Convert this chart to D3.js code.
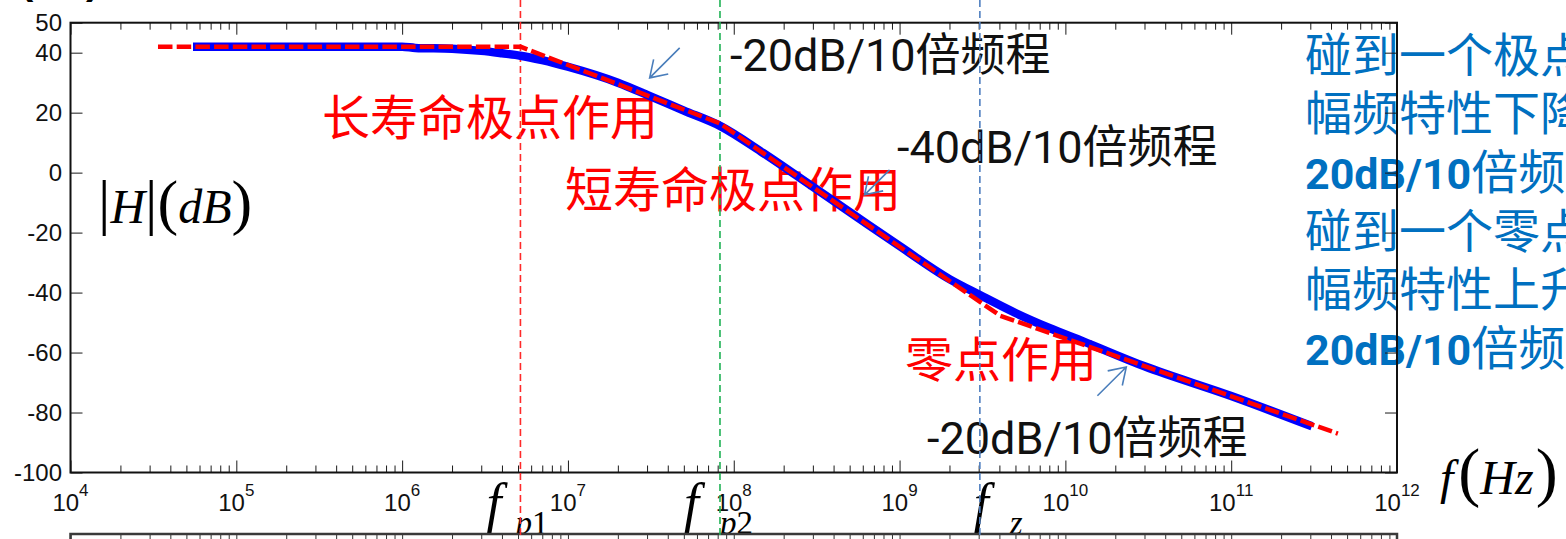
<!DOCTYPE html>
<html>
<head>
<meta charset="utf-8">
<script src="https://cdn.jsdelivr.net/npm/d3@7"></script>
<style>
  html, body { margin: 0; padding: 0; background: #fff; overflow: hidden; }
  svg { display: block; }
</style>
</head>
<body>
<svg id="chart" width="1566" height="539"></svg>
<script>
// ---- Data --------------------------------------------------------------
// Simulated magnitude response |H| (dB) versus frequency (Hz)
const blueFreq = [5.48e4, 1e5, 1e6, 1.2e6, 2e6, 3e6, 4e6, 5.17e6, 7e6, 1e7, 2e7, 3.1e7, 5e7,
                  8.26e7, 1.5e8, 2.5e8, 5.7e8, 1e9, 2e9, 3.05e9, 5e9, 8e9, 1.27e10, 3e10, 1e11, 3.07e11];
const blueDb   = [42, 42, 42, 41.6, 41.3, 40.6, 39.8, 39, 37.5, 35.3, 30, 25.6, 20.7,
                  15.6, 6.6, -1.7, -15.3, -24.5, -35.5, -40.8, -46.8, -51.8, -56.2, -64.6, -74.5, -84.6];

// Piecewise (asymptotic) approximation drawn dashed on top
const redFreq = [3.37e4, 5.17e6, 8.26e7, 4.04e9, 4.4e11];
const redDb   = [42, 42, 16.4, -47.7, -87];

// Pole / zero frequencies marked by vertical dashed lines
const markerNames  = ["p1", "p2", "z"];
const markerFreq   = [5.17e6, 8.26e7, 3.05e9];
const markerColors = ["#ff2a2a", "#1fb255", "#4f7fc0"];

// Axis ticks
const xTickExponents = [4, 5, 6, 7, 8, 9, 10, 11, 12];
const yTickValues    = [-100, -80, -60, -40, -20, 0, 20, 40, 50];

// Slope arrows: [freq, dB] of tail and head
const arrowFrom = [[4.72e7, 41.6], [8.7e8, 0.9], [1.56e10, -74.4]];
const arrowTo   = [[3.11e7, 31.6], [6.15e8, -7.4], [2.33e10, -64.8]];

// Notes on the right
const noteLines = ["碰到一个极点", "幅频特性下降", "20dB/10倍频程", "碰到一个零点", "幅频特性上升", "20dB/10倍频程"];

// ---- Layout ------------------------------------------------------------
const W = 1566, H = 539;
const plotLeft = 70.5, plotRight = 1397, plotTop = 22.7, plotBottom = 472.5;
const lowerTop = 534;

const x = d3.scaleLog().domain([1e4, 1e12]).range([plotLeft, plotRight]);
const y = d3.scaleLinear().domain([-100, 50]).range([plotBottom, plotTop]);

const svg = d3.select("#chart");
svg.append("rect").attr("width", W).attr("height", H).attr("fill", "#fff");

const sansCJK = "'Noto Sans CJK SC', sans-serif";
const serif = "'Liberation Serif', 'Times New Roman', serif";
const axisFont = "'Liberation Sans', Arial, sans-serif";

// partial label cut at the top edge
svg.append("text").attr("x", 20).attr("y", -6).attr("font-family", axisFont)
  .attr("font-weight", "bold").attr("font-size", 40).attr("fill", "#000").text("(");
svg.append("text").attr("x", 86).attr("y", -6).attr("font-family", axisFont)
  .attr("font-weight", "bold").attr("font-size", 40).attr("fill", "#000").text(")");

// ---- Annotation texts ---------------------------------------------------
const redNotes = [
  { t: "长寿命极点作用", x: 322, y: 135 },
  { t: "短寿命极点作用", x: 565, y: 207 },
  { t: "零点作用", x: 905, y: 377 }
];
svg.selectAll("text.rednote").data(redNotes).join("text")
  .attr("class", "rednote")
  .attr("x", d => d.x).attr("y", d => d.y)
  .attr("font-family", sansCJK).attr("font-weight", 400)
  .attr("font-size", 48).attr("fill", "#ff0000")
  .text(d => d.t);

const slopeNotes = [
  { t: "-20dB/10倍频程", x: 730, y: 71 },
  { t: "-40dB/10倍频程", x: 897, y: 163 },
  { t: "-20dB/10倍频程", x: 927, y: 454 }
];
svg.selectAll("text.slope").data(slopeNotes).join("text")
  .attr("class", "slope")
  .attr("x", d => d.x).attr("y", d => d.y)
  .attr("font-family", "Roboto, 'Noto Sans CJK SC', sans-serif")
  .attr("font-size", 45).attr("fill", "#111")
  .text(d => d.t);

// right-hand notes (blue)
const notes = svg.append("g").attr("fill", "#0070c0");
noteLines.forEach((line, i) => {
  const t = notes.append("text")
    .attr("x", 1305).attr("y", 71.5 + i * 58.7)
    .attr("font-family", "Roboto, 'Noto Sans CJK SC', sans-serif")
    .attr("font-size", 47);
  const m = line.match(/^([0-9A-Za-z\/]+)(.*)$/);
  if (m) {
    t.append("tspan").attr("font-weight", "bold").attr("font-size", 43).text(m[1]);
    t.append("tspan").text(m[2]);
  } else {
    t.text(line);
  }
});

// |H|(dB) label
const hLab = svg.append("text").attr("x", 98).attr("y", 223)
  .attr("font-family", serif).attr("fill", "#000");
hLab.append("tspan").attr("font-size", 62).text("|");
hLab.append("tspan").attr("font-size", 48).attr("font-style", "italic").text("H");
hLab.append("tspan").attr("font-size", 62).text("|(");
hLab.append("tspan").attr("font-size", 48).attr("font-style", "italic").text("dB");
hLab.append("tspan").attr("font-size", 62).text(")");

// f(Hz) label
const fLab = svg.append("text").attr("x", 1440).attr("y", 494)
  .attr("font-family", serif).attr("fill", "#000");
fLab.append("tspan").attr("font-size", 48).attr("font-style", "italic").text("f");
fLab.append("tspan").attr("font-size", 66).attr("dx", 5).text("(");
fLab.append("tspan").attr("font-size", 48).attr("font-style", "italic").text("Hz");
fLab.append("tspan").attr("font-size", 66).attr("dx", 2).text(")");

// f_p1, f_p2, f_z labels under the axis
const markerLabelOffset = [[-34, -5], [-36, 0], [-6, 30]];
markerNames.forEach((nm, i) => {
  const mx = x(markerFreq[i]);
  svg.append("text").attr("x", mx + markerLabelOffset[i][0]).attr("y", 521)
    .attr("font-family", serif).attr("font-style", "italic")
    .attr("font-size", 54).attr("fill", "#000").text("f");
  const sub = svg.append("text").attr("x", mx + markerLabelOffset[i][1]).attr("y", 534)
    .attr("font-family", serif).attr("font-size", 33).attr("fill", "#000");
  sub.append("tspan").attr("font-style", "italic").text(nm[0]);
  if (nm.length > 1) sub.append("tspan").text(nm.slice(1));
});

// ---- Lower panel edge ---------------------------------------------------
const majorFreqs = xTickExponents.map(e => Math.pow(10, e));
const minorFreqs = [];
xTickExponents.slice(0, -1).forEach(e => {
  for (let m = 2; m <= 9; m++) minorFreqs.push(m * Math.pow(10, e));
});

svg.append("rect").attr("x", 0).attr("y", lowerTop).attr("width", W).attr("height", H - lowerTop)
  .attr("fill", "#fff");
const lower = svg.append("g").attr("transform", `translate(0,${lowerTop})`);
lower.append("g").call(d3.axisBottom(x).tickValues(majorFreqs).tickSize(12).tickSizeOuter(0).tickFormat(() => ""));
lower.append("g").call(d3.axisBottom(x).tickValues(minorFreqs).tickSize(7).tickSizeOuter(0).tickFormat(() => ""));
lower.selectAll(".domain").remove();
lower.selectAll(".tick line").attr("stroke", "#333").attr("stroke-width", 1);
lower.append("path").attr("d", `M${plotLeft},${H}V0H${plotRight}V${H}`)
  .attr("fill", "none").attr("stroke", "#3a3a3a").attr("stroke-width", 2.5);

// ---- Main axes ----------------------------------------------------------
const axes = svg.append("g");
function styleTicks(g) {
  g.selectAll(".domain").remove();
  g.selectAll(".tick line").attr("stroke", "#1a1a1a").attr("stroke-width", 1);
}
// bottom
axes.append("g").attr("transform", `translate(0,${plotBottom})`)
  .call(d3.axisBottom(x).tickValues(majorFreqs).tickSize(-12).tickSizeOuter(0).tickFormat(() => ""))
  .call(styleTicks);
axes.append("g").attr("transform", `translate(0,${plotBottom})`)
  .call(d3.axisBottom(x).tickValues(minorFreqs).tickSize(-7).tickSizeOuter(0).tickFormat(() => ""))
  .call(styleTicks);
// top
axes.append("g").attr("transform", `translate(0,${plotTop})`)
  .call(d3.axisTop(x).tickValues(majorFreqs).tickSize(-12).tickSizeOuter(0).tickFormat(() => ""))
  .call(styleTicks);
axes.append("g").attr("transform", `translate(0,${plotTop})`)
  .call(d3.axisTop(x).tickValues(minorFreqs).tickSize(-7).tickSizeOuter(0).tickFormat(() => ""))
  .call(styleTicks);
// left with labels
const yAxisG = axes.append("g").attr("transform", `translate(${plotLeft},0)`)
  .call(d3.axisLeft(y).tickValues(yTickValues).tickSize(-12).tickSizeOuter(0).tickPadding(8.5)
    .tickFormat(d => String(d)))
  .call(styleTicks);
yAxisG.selectAll(".tick text")
  .attr("font-family", axisFont).attr("font-size", 24).attr("fill", "#111");
// right
axes.append("g").attr("transform", `translate(${plotRight},0)`)
  .call(d3.axisRight(y).tickValues(yTickValues).tickSize(-12).tickSizeOuter(0).tickFormat(() => ""))
  .call(styleTicks);

// x tick labels 10^n
const xLabels = axes.append("g");
xTickExponents.forEach(e => {
  const t = xLabels.append("text")
    .attr("x", x(Math.pow(10, e))).attr("y", 511)
    .attr("text-anchor", "middle")
    .attr("font-family", axisFont).attr("font-size", 24).attr("fill", "#111");
  t.append("tspan").text("10");
  t.append("tspan").attr("font-size", 17).attr("dy", -15).text(String(e));
});

// frame
axes.append("rect")
  .attr("x", plotLeft).attr("y", plotTop).attr("width", plotRight - plotLeft).attr("height", plotBottom - plotTop)
  .attr("fill", "none").attr("stroke", "#111").attr("stroke-width", 2);

// ---- Vertical markers ---------------------------------------------------
svg.selectAll("line.marker").data(markerFreq).join("line")
  .attr("class", "marker")
  .attr("x1", d => x(d)).attr("x2", d => x(d))
  .attr("y1", 0).attr("y2", H)
  .attr("stroke", (d, i) => markerColors[i])
  .attr("stroke-width", 1.6)
  .attr("stroke-dasharray", "7 4");

// ---- Curves -------------------------------------------------------------
const blueData = blueFreq.map((f, i) => ({ f, db: blueDb[i] }));
const redData  = redFreq.map((f, i) => ({ f, db: redDb[i] }));

const smooth = d3.line().x(d => x(d.f)).y(d => y(d.db)).curve(d3.curveMonotoneX);
const straight = d3.line().x(d => x(d.f)).y(d => y(d.db));

svg.append("path").datum(blueData)
  .attr("d", smooth)
  .attr("fill", "none").attr("stroke", "#0000ff")
  .attr("stroke-width", 8.5).attr("stroke-linejoin", "round");

svg.append("path").datum(redData)
  .attr("d", straight)
  .attr("fill", "none").attr("stroke", "#ff0000")
  .attr("stroke-width", 4.5).attr("stroke-dasharray", "14.5 4.2")
  .attr("stroke-linejoin", "round");

// ---- Arrows -------------------------------------------------------------
const arrowColor = "#4a7ebb";
arrowFrom.forEach((a, i) => {
  const x0 = x(a[0]), y0 = y(a[1]);
  const x1 = x(arrowTo[i][0]), y1 = y(arrowTo[i][1]);
  const ang = Math.atan2(y0 - y1, x0 - x1);
  const len = 19, spread = 33 * Math.PI / 180;
  const b1 = [x1 + len * Math.cos(ang + spread), y1 + len * Math.sin(ang + spread)];
  const b2 = [x1 + len * Math.cos(ang - spread), y1 + len * Math.sin(ang - spread)];
  svg.append("path")
    .attr("d", `M${x0},${y0}L${x1},${y1}M${b1[0]},${b1[1]}L${x1},${y1}L${b2[0]},${b2[1]}`)
    .attr("fill", "none").attr("stroke", arrowColor).attr("stroke-width", 1.6);
});
</script>
</body>
</html>
